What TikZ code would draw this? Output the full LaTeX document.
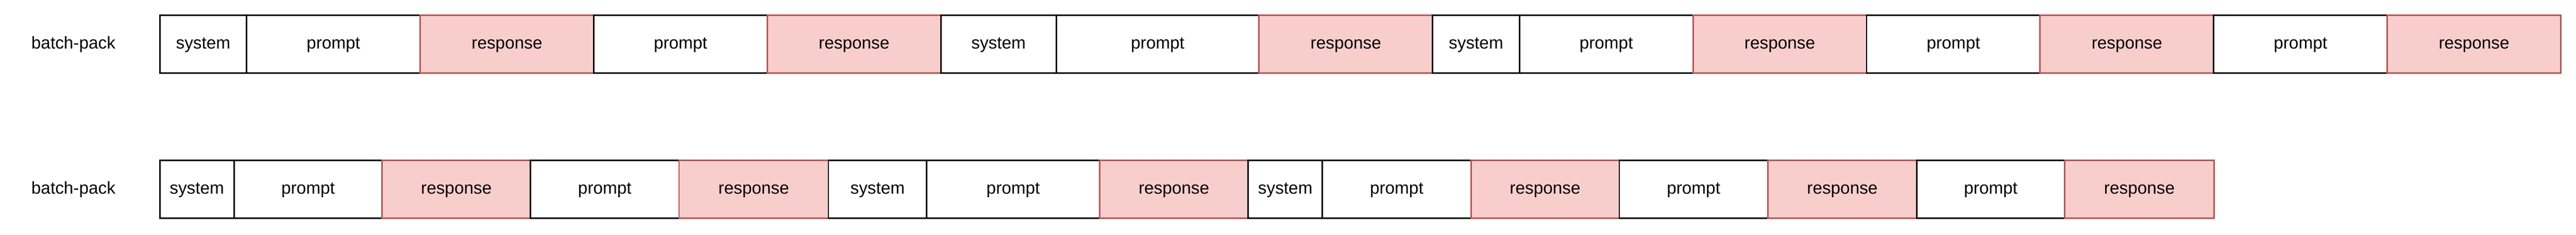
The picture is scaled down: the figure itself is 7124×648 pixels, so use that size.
\documentclass[tikz,border=0pt]{standalone}
\usepackage{fontspec}
\setmainfont{Liberation Sans}
\definecolor{respfill}{HTML}{F8CECC}
\definecolor{respline}{HTML}{B85450}
\tikzset{
  seg/.style={draw=black, line width=0.8pt, fill=white, minimum height=32pt,
    inner sep=0pt, outer sep=0pt, anchor=west, font=\fontsize{9.5}{11}\selectfont,
    text height=7.2pt, text depth=2pt},
  sysbox/.style={seg},
  promptbox/.style={seg},
  respbox/.style={seg, draw=respline, fill=respfill},
  rowlabel/.style={inner sep=0pt, font=\fontsize{9.5}{11}\selectfont, text height=7.2pt, text depth=2pt}
}
\begin{document}
\begin{tikzpicture}[x=0.2pt,y=-0.2pt]
\useasboundingbox (0,0) rectangle (7124,648);
\node[rowlabel] (lab1) at (203,122) {batch-pack};
\node[rowlabel] (lab2) at (203,522) {batch-pack};
\foreach \a/\b/\k/\t [count=\i] in {
  442/682/sysbox/system, 682/1162/promptbox/prompt, 1162/1642/respbox/response,
  1642/2122/promptbox/prompt, 2122/2602/respbox/response,
  2602/2921/sysbox/system, 2921/3482/promptbox/prompt, 3482/3962/respbox/response,
  3962/4202/sysbox/system, 4202/4682/promptbox/prompt, 4682/5162/respbox/response,
  5162/5642/promptbox/prompt, 5642/6122/respbox/response,
  6122/6602/promptbox/prompt, 6602/7082/respbox/response}
  \node[style=\k, minimum width=\b*0.2pt-\a*0.2pt] (a\i) at (\a,122) {\t};
\foreach \a/\b/\k/\t [count=\i] in {
  442/647/sysbox/system, 647/1057/promptbox/prompt, 1057/1467/respbox/response,
  1467/1878/promptbox/prompt, 1878/2291/respbox/response,
  2291/2563/sysbox/system, 2563/3041/promptbox/prompt, 3041/3452/respbox/response,
  3452/3657/sysbox/system, 3657/4068/promptbox/prompt, 4068/4478/respbox/response,
  4478/4889/promptbox/prompt, 4889/5301/respbox/response,
  5301/5710/promptbox/prompt, 5710/6123/respbox/response}
  \node[style=\k, minimum width=\b*0.2pt-\a*0.2pt] (b\i) at (\a,522) {\t};
\end{tikzpicture}
\end{document}
